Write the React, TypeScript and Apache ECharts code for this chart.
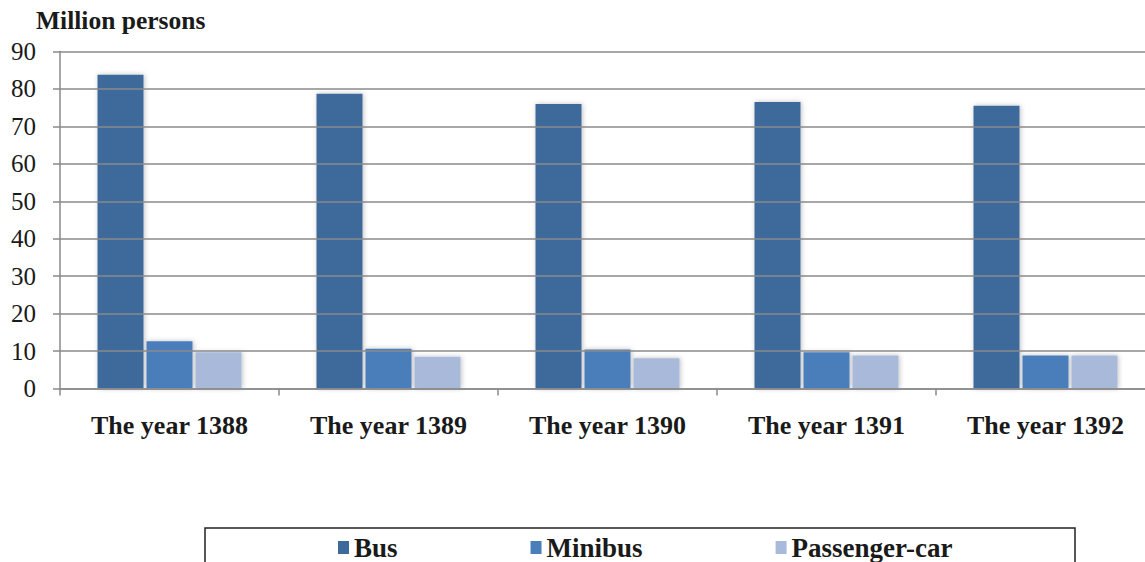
import React, { useEffect, useRef } from "react";
import * as echarts from "echarts";

const categories = ["The year 1388", "The year 1389", "The year 1390", "The year 1391", "The year 1392"];
const busValues = [83.8, 78.7, 76.0, 76.5, 75.5];
const minibusValues = [12.6, 10.6, 10.4, 9.7, 8.8];
const passengerCarValues = [9.7, 8.5, 8.1, 8.8, 8.8];
const seriesNames = ["Bus", "Minibus", "Passenger-car"];
const seriesColors = ["#3E6A9B", "#4A7EBB", "#A8B9D9"];
const yTicks = { min: 0, max: 90, interval: 10 };
const yAxisTitle = "Million persons";

const FONT = "Liberation Serif";

export default function App() {
  const ref = useRef<HTMLDivElement>(null);

  useEffect(() => {
    if (!ref.current) return;
    const chart = echarts.init(ref.current, undefined, { renderer: "svg" });
    const valuesList = [busValues, minibusValues, passengerCarValues];
    chart.setOption({
      animation: false,
      backgroundColor: "#ffffff",
      textStyle: { fontFamily: FONT },
      title: {
        text: yAxisTitle,
        left: 36,
        top: 7,
        padding: 0,
        textStyle: { fontFamily: FONT, fontSize: 25.5, fontWeight: "bold", color: "#1a1a1a" },
      },
      legend: {
        data: seriesNames,
        left: 338,
        top: 534,
        padding: 0,
        itemGap: 133,
        itemWidth: 11,
        itemHeight: 13,
        icon: "rect",
        textStyle: { fontFamily: FONT, fontSize: 27, fontWeight: "bold", color: "#1a1a1a" },
      },
      graphic: [
        {
          type: "rect",
          shape: { x: 205, y: 528, width: 870, height: 60 },
          style: { fill: "none", stroke: "#222222", lineWidth: 1.5 },
          z: 10,
        },
      ],
      grid: { left: 60, top: 51.5, right: 5, height: 337, containLabel: false },
      xAxis: {
        type: "category",
        data: categories,
        z: 5,
        axisLine: { show: true, lineStyle: { color: "#8a8a8a", width: 1.5 } },
        axisTick: { show: true, length: 7, lineStyle: { color: "#8a8a8a", width: 1.5 } },
        axisLabel: {
          margin: 24,
          fontFamily: FONT,
          fontSize: 26,
          fontWeight: "bold",
          color: "#1a1a1a",
        },
      },
      yAxis: {
        type: "value",
        min: yTicks.min,
        max: yTicks.max,
        interval: yTicks.interval,
        z: 5,
        axisLine: { show: true, lineStyle: { color: "#8a8a8a", width: 1.5 } },
        axisTick: { show: true, length: 7, lineStyle: { color: "#8a8a8a", width: 1.5 } },
        axisLabel: { margin: 24, fontFamily: FONT, fontSize: 25, color: "#1a1a1a" },
        splitLine: { show: true, lineStyle: { color: "#8a8a8a", width: 1.5 } },
      },
      series: seriesNames.map((name, i) => ({
        name,
        type: "bar",
        data: valuesList[i],
        barWidth: 46,
        barGap: "6.5%",
        itemStyle: {
          color: seriesColors[i],
          shadowBlur: 5,
          shadowColor: "rgba(0,0,0,0.25)",
          shadowOffsetX: 1,
          shadowOffsetY: 0,
        },
      })),
    });
    return () => chart.dispose();
  }, []);

  return (
    <div style={{ position: "absolute", left: 0, top: 0, width: 1145, height: 562, overflow: "hidden", background: "#fff" }}>
      <div ref={ref} style={{ width: 1160, height: 562 }} />
    </div>
  );
}
